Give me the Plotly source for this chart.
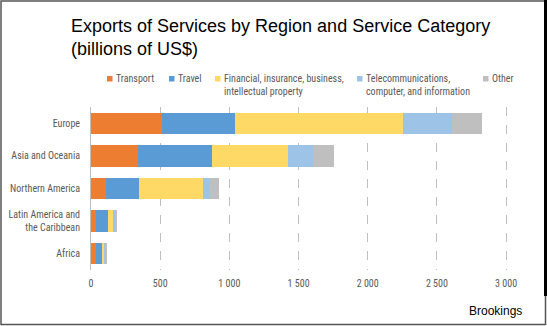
import plotly.graph_objects as go

# ---- data ----
regions = ["Europe", "Asia and Oceania", "Northern America",
           "Latin America and<br>the Caribbean", "Africa"]
series_names = ["Transport", "Travel",
                "Financial, insurance, business,<br>intellectual property",
                "Telecommunications,<br>computer, and information", "Other"]
transport = [513, 339, 108, 36, 34]
travel = [527, 532, 236, 87, 45]
financial = [1213, 556, 467, 40, 19]
telecom = [358, 180, 50, 7, 7]
other = [214, 150, 63, 15, 10]
x_ticks = [0, 500, 1000, 1500, 2000, 2500, 3000]
x_tick_labels = ["0", "500", "1 000", "1 500", "2 000", "2 500", "3 000"]

colors = ["#ED7D31", "#5B9BD5", "#FFD966", "#9DC3E6", "#BFBFBF"]
values = [transport, travel, financial, telecom, other]

W, H = 547, 326
L, R, T, B = 91, 34, 107, 56
PW, PH = W - L - R, H - T - B

def px_x(px):
    return (px - L) / PW

def px_y(py):
    return (H - B - py) / PH

NARROW = "Liberation Sans Narrow, Arial Narrow, Roboto Condensed, Roboto, sans-serif"

fig = go.Figure()
for name, vals, col in zip(series_names, values, colors):
    fig.add_trace(go.Bar(
        y=regions, x=vals, name=name, orientation="h",
        marker=dict(color=col, line=dict(width=0)),
        showlegend=False,
    ))

# manual legend (swatch + label)
legend_swatch_px = [107, 169, 215, 357, 483]
shapes = []
annotations = []
for name, col, sx in zip(series_names, colors, legend_swatch_px):
    shapes.append(dict(type="rect", xref="paper", yref="paper",
                       x0=px_x(sx), x1=px_x(sx + 5.5),
                       y0=px_y(81.5), y1=px_y(76),
                       fillcolor=col, line=dict(width=0)))
    annotations.append(dict(text=name, xref="paper", yref="paper",
                            x=px_x(sx + 6.5), y=px_y(71), xanchor="left", yanchor="top",
                            showarrow=False, align="left",
                            font=dict(family=NARROW, size=10, color="#595959")))

annotations.append(dict(text="Brookings", xref="paper", yref="paper",
                        x=px_x(524), y=px_y(311), xanchor="right", yanchor="middle",
                        showarrow=False,
                        font=dict(family="Liberation Sans, Arial, sans-serif", size=12, color="#000000")))

# title as annotation for precise placement
annotations.append(dict(text="Exports of Services by Region and Service Category<br>(billions of US$)",
                        xref="paper", yref="paper",
                        x=px_x(69), y=px_y(14), xanchor="left", yanchor="top",
                        showarrow=False, align="left",
                        font=dict(family="Liberation Sans, Arial, sans-serif", size=18, color="#000000")))

# frame around the picture
shapes.append(dict(type="rect", xref="paper", yref="paper",
                   x0=px_x(1), x1=px_x(545.5), y0=px_y(324.5), y1=px_y(1),
                   line=dict(color="#555555", width=1.5), fillcolor="rgba(0,0,0,0)"))
shapes.append(dict(type="rect", xref="paper", yref="paper",
                   x0=px_x(544), x1=px_x(547), y0=px_y(296), y1=px_y(0),
                   line=dict(width=0), fillcolor="#000000"))

fig.update_layout(
    width=W, height=H,
    margin=dict(l=L, r=R, t=T, b=B, autoexpand=False),
    barmode="stack",
    bargap=0.345,
    paper_bgcolor="white",
    plot_bgcolor="white",
    shapes=shapes,
    annotations=annotations,
    xaxis=dict(
        range=[0, 3050],
        tickvals=x_ticks, ticktext=x_tick_labels,
        showgrid=True, gridcolor="#BFBFBF", griddash="dash", gridwidth=1,
        zeroline=False, showline=False,
        tickfont=dict(family=NARROW, size=10, color="#595959"),
        ticklabelstandoff=6,
        automargin=False,
        fixedrange=True,
    ),
    yaxis=dict(
        autorange="reversed",
        showgrid=False, zeroline=False,
        showline=True, linecolor="#BFBFBF", linewidth=1,
        tickfont=dict(family=NARROW, size=10, color="#595959"),
        ticklabelstandoff=8,
        automargin=False,
        fixedrange=True,
    ),
)

fig.write_html("out.html")
